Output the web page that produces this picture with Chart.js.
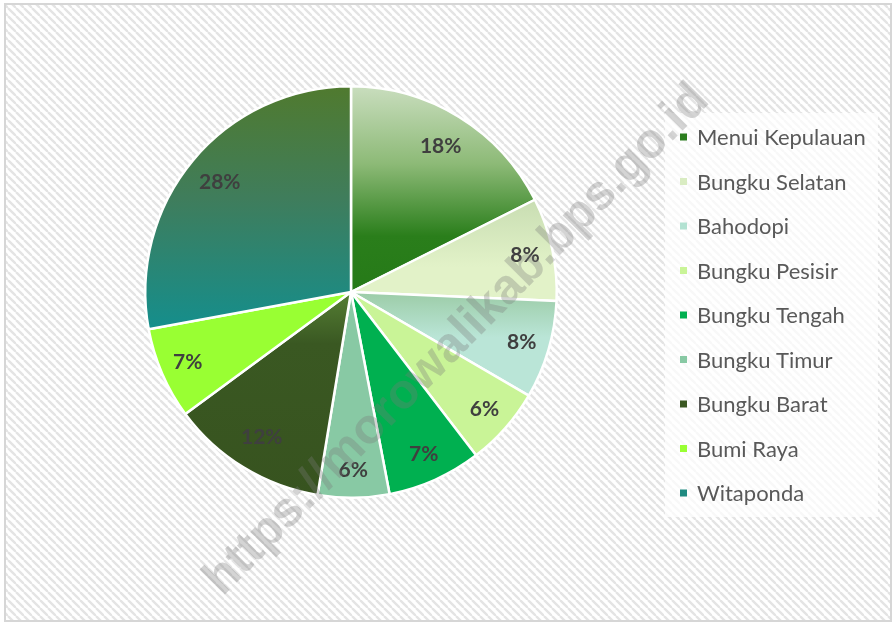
<!DOCTYPE html>
<html>
<head>
<meta charset="utf-8">
<script src="https://cdn.jsdelivr.net/npm/chart.js@4.4.1/dist/chart.umd.min.js"></script>
<style>
html,body{margin:0;padding:0;background:#fff;}
#wrap{width:894px;height:624px;position:relative;}
</style>
</head>
<body>
<div id="wrap"><canvas id="c" width="894" height="624"></canvas></div>
<script>
// ---- data ----
const categories = ["Menui Kepulauan","Bungku Selatan","Bahodopi","Bungku Pesisir","Bungku Tengah","Bungku Timur","Bungku Barat","Bumi Raya","Witaponda"];
const shares = [17.6, 8.1, 7.7, 6.2, 7.4, 5.6, 12.3, 7.2, 27.9];
const watermarkText = "https://morowalikab.bps.go.id";

// ---- styles ----
const flatColors = ["#2b7d1e","#d9ecc2","#b3e2d2","#c9f497","#00b050","#88c9a4","#3a5822","#99ff33","#1f8a80"];
// gradient stops: [fraction of radius relative to center (vertical), color]
const gradStops = [
  [[-1,"#cadebf"],[-0.62,"#8dba77"],[-0.27,"#2a7e1b"],[0,"#267a18"]],
  [[-0.45,"#c8ddb2"],[-0.12,"#e2f2c8"],[0.1,"#e2f2c8"]],
  [[0,"#9ccca7"],[0.22,"#bae5d7"],[0.5,"#bae5d7"]],
  null, null, null,
  [[0,"#557f34"],[0.25,"#3a5822"],[1,"#37531f"]],
  null,
  [[-1,"#507a2e"],[-0.45,"#3f7d5c"],[0.2,"#138f8e"]]
];

function sliceColor(ctx){
  const i = ctx.dataIndex;
  const st = gradStops[i];
  const a = ctx.chart.chartArea;
  if(!st || !a) return flatColors[i];
  const cy = (a.top + a.bottom)/2;
  const R = Math.min(a.right-a.left, a.bottom-a.top)/2;
  const g = ctx.chart.ctx.createLinearGradient(0, cy - R, 0, cy + R);
  st.forEach(([f,c]) => g.addColorStop((f+1)/2, c));
  return g;
}

const bgPlugin = {
  id:'bg',
  beforeDraw(chart){
    const c = chart.ctx;
    c.save();
    c.fillStyle = '#ffffff';
    c.fillRect(0,0,chart.width,chart.height);
    const tile = document.createElement('canvas');
    tile.width = 8; tile.height = 8;
    const t = tile.getContext('2d');
    t.fillStyle = '#ffffff'; t.fillRect(0,0,8,8);
    t.strokeStyle = '#e4e4e4'; t.lineWidth = 2.4;
    [-8,0,8].forEach(x0 => { t.beginPath(); t.moveTo(x0,0); t.lineTo(x0+8,8); t.stroke(); });
    c.fillStyle = c.createPattern(tile,'repeat');
    c.fillRect(6,5,884,615);
    c.strokeStyle = '#d6d6d6'; c.lineWidth = 2;
    c.strokeRect(5,4,886,617);
    // legend panel
    c.fillStyle = 'rgba(255,255,255,0.72)';
    c.fillRect(665,113,213,404);
    c.restore();
  }
};

const labelPlugin = {
  id:'labels',
  afterDatasetsDraw(chart){
    const c = chart.ctx;
    const meta = chart.getDatasetMeta(0);
    const total = shares.reduce((s,v)=>s+v,0);
    c.save();
    c.font = 'bold 21px Lato';
    c.fillStyle = '#3f3f3f';
    c.textAlign = 'center'; c.textBaseline = 'middle';
    meta.data.forEach((el,i) => {
      const mid = (el.startAngle + el.endAngle)/2;
      const pct = shares[i]/total*100;
      const r = el.outerRadius * (pct > 10 ? 0.83 : 0.865);
      c.fillText(Math.round(pct)+'%', el.x + Math.cos(mid)*r, el.y + Math.sin(mid)*r);
    });
    // legend
    c.font = '22px Lato';
    c.textAlign = 'left';
    categories.forEach((name,i) => {
      const y = 137 + i*44.5;
      c.fillStyle = flatColors[i];
      c.fillRect(680, y-3.5, 7, 7);
      c.fillStyle = '#595959';
      c.fillText(name, 697, y+1);
    });
    c.restore();
  },
  afterDraw(chart){
    const c = chart.ctx;
    c.save();
    c.translate(457, 340);
    c.rotate(-45.4*Math.PI/180);
    c.font = 'bold 40px "Liberation Sans"';
    const w = c.measureText(watermarkText).width;
    const size = 40 * 695 / w;
    c.font = 'bold ' + size.toFixed(1) + 'px "Liberation Sans"';
    c.fillStyle = 'rgba(120,120,120,0.32)';
    c.textAlign = 'center'; c.textBaseline = 'middle';
    c.fillText(watermarkText, 0, 0);
    c.restore();
  }
};

new Chart(document.getElementById('c'), {
  type:'pie',
  data:{
    labels: categories,
    datasets:[{
      data: shares,
      backgroundColor: sliceColor,
      borderColor:'#ffffff',
      borderWidth:2.5
    }]
  },
  options:{
    responsive:false,
    animation:false,
    events:[],
    layout:{padding:{left:144,right:336,top:85,bottom:125}},
    plugins:{legend:{display:false},tooltip:{enabled:false}}
  },
  plugins:[bgPlugin,labelPlugin]
});
</script>
</body>
</html>
